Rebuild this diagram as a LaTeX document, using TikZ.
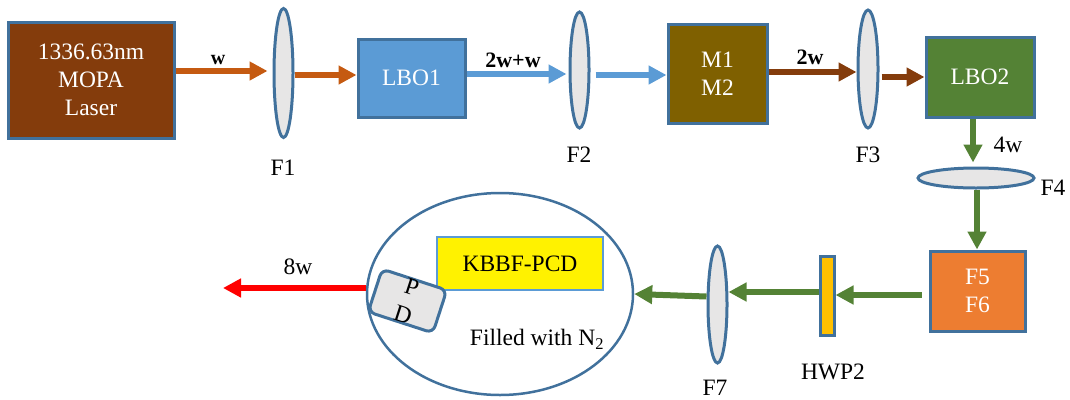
\documentclass[tikz,border=0pt]{standalone}
\usepackage{fontspec}
\setmainfont{Liberation Serif}
\usetikzlibrary{shapes.geometric,arrows.meta,calc}
\definecolor{bord}{HTML}{41719C}
\definecolor{lensfill}{HTML}{E7E6E6}
\definecolor{laserc}{HTML}{843C0C}
\definecolor{orangea}{HTML}{C55A11}
\definecolor{bluea}{HTML}{5B9BD5}
\definecolor{mfill}{HTML}{7F6000}
\definecolor{greena}{HTML}{548235}
\definecolor{f56fill}{HTML}{ED7D31}
\definecolor{hwpfill}{HTML}{FFC000}
\definecolor{redA}{HTML}{FF0000}
\begin{document}
\begin{tikzpicture}[x=1pt,y=-1pt,
  box/.style={draw=bord,line width=3pt,rectangle,inner sep=0pt,text=white,align=center,
    font=\fontsize{23.5}{28}\selectfont},
  lens/.style={draw=bord,fill=lensfill,line width=3pt,ellipse,inner sep=0pt},
  beam/.style={line width=6pt,-{Triangle[length=18pt,width=18pt]}},
  lbl/.style={font=\fontsize{23.5}{27}\selectfont},
  blbl/.style={font=\fontsize{22}{26}\selectfont\bfseries}]
\useasboundingbox (0,0) rectangle (1070,399);
% boxes
\node[box,fill=laserc,minimum width=166pt,minimum height=116pt] (laser) at (91,80) {1336.63nm\\MOPA\\Laser};
\node[box,fill=bluea,minimum width=107pt,minimum height=78pt] (lbo1) at (411.5,78) {LBO1};
\node[box,fill=mfill,minimum width=99pt,minimum height=99pt] (mm) at (717.5,73.5) {M1\\M2};
\node[box,fill=greena,minimum width=108pt,minimum height=80pt] (lbo2) at (980,77) {LBO2};
\node[box,fill=f56fill,minimum width=95pt,minimum height=80pt] (f56) at (977.5,291) {F5\\F6};
\node[box,fill=hwpfill,minimum width=14pt,minimum height=79pt] (hwp) at (827,295.5) {};
% lenses
\node[lens,minimum width=19pt,minimum height=129pt] (F1) at (283.5,73) {};
\node[lens,minimum width=19pt,minimum height=116pt] (F2) at (579.5,70) {};
\node[lens,minimum width=20pt,minimum height=118pt] (F3) at (868,69) {};
\node[lens,minimum width=116pt,minimum height=20pt] (F4) at (976,178) {};
\node[lens,minimum width=19pt,minimum height=117pt] (F7) at (717.5,304.5) {};
% chamber
\node[draw=bord,line width=2.5pt,ellipse,minimum width=266pt,minimum height=202pt,inner sep=0pt] (ell) at (500,294) {};
\node[draw=bluea,line width=2.5pt,fill=yellow,minimum width=166pt,minimum height=53pt,inner sep=0pt,
  font=\fontsize{23.5}{27}\selectfont] (kbbf) at (520,263.5) {KBBF-PCD};
\node[draw=bord,line width=3pt,fill=lensfill,rounded corners=7pt,minimum width=68pt,minimum height=45pt,
  inner sep=0pt,rotate=-18,align=center,font=\fontsize{24}{29}\selectfont] (pd) at (407.5,301) {P\\D};
% labels
\node[lbl] (lF1) at (283,168) {F1};
\node[lbl] (lF2) at (579,155) {F2};
\node[lbl] (lF3) at (868,155) {F3};
\node[lbl] (lF4) at (1053,188) {F4};
\node[lbl] (lF7) at (715,388) {F7};
\node[lbl] (lhwp) at (833,372) {HWP2};
\node[lbl] (fill) at (537,339) {Filled with N\textsubscript{2}};
\node[blbl,font=\fontsize{20}{24}\selectfont\bfseries] (lw) at (218,60) {w};
\node[blbl] (l2ww) at (513,60) {2w+w};
\node[blbl] (l2w) at (810,57) {2w};
\node[lbl] (l4w) at (1008,145) {4w};
\node[lbl] (l8w) at (298,267) {8w};
\coordinate (out) at (223,288);
% beams
\draw[beam,orangea,shorten >=5pt] ([yshift=9pt]laser.east) -- ([yshift=9pt]laser.east -| F1.west);
\draw[beam,orangea] ([yshift=-2pt]F1.east) -- ([yshift=-2pt]F1.east -| lbo1.west);
\draw[beam,bluea,shorten >=2pt] ([yshift=4pt]lbo1.east) -- ([yshift=4pt]lbo1.east -| F2.west);
\draw[beam,bluea,shorten <=5pt] ([yshift=-5pt]F2.east) -- ([yshift=-5pt]F2.east -| mm.west);
\draw[beam,laserc] ([yshift=1.5pt]mm.east) -- ([yshift=1.5pt]mm.east -| F3.west);
\draw[beam,laserc,shorten <=2pt] ([yshift=-8pt]F3.east) -- ([yshift=-8pt]F3.east -| lbo2.west);
\draw[beam,greena,shorten >=4pt] ([xshift=-7pt]lbo2.south) -- ([xshift=-7pt]lbo2.south |- F4.north);
\draw[beam,greena] ([xshift=1pt]F4.south) -- ([xshift=1pt]F4.south |- f56.north);
\draw[beam,greena,shorten <=7pt] ([yshift=-4pt]f56.west) -- ([yshift=-4pt]f56.west -| hwp.east);
\draw[beam,greena] ([yshift=3.5pt]hwp.west) -- ([yshift=3.5pt]hwp.west -| F7.east);
\draw[beam,greena] ([yshift=8pt]F7.west) -- (ell.east);
\draw[beam,redA] ([yshift=6pt]ell.west) -- (out);
\end{tikzpicture}
\end{document}
